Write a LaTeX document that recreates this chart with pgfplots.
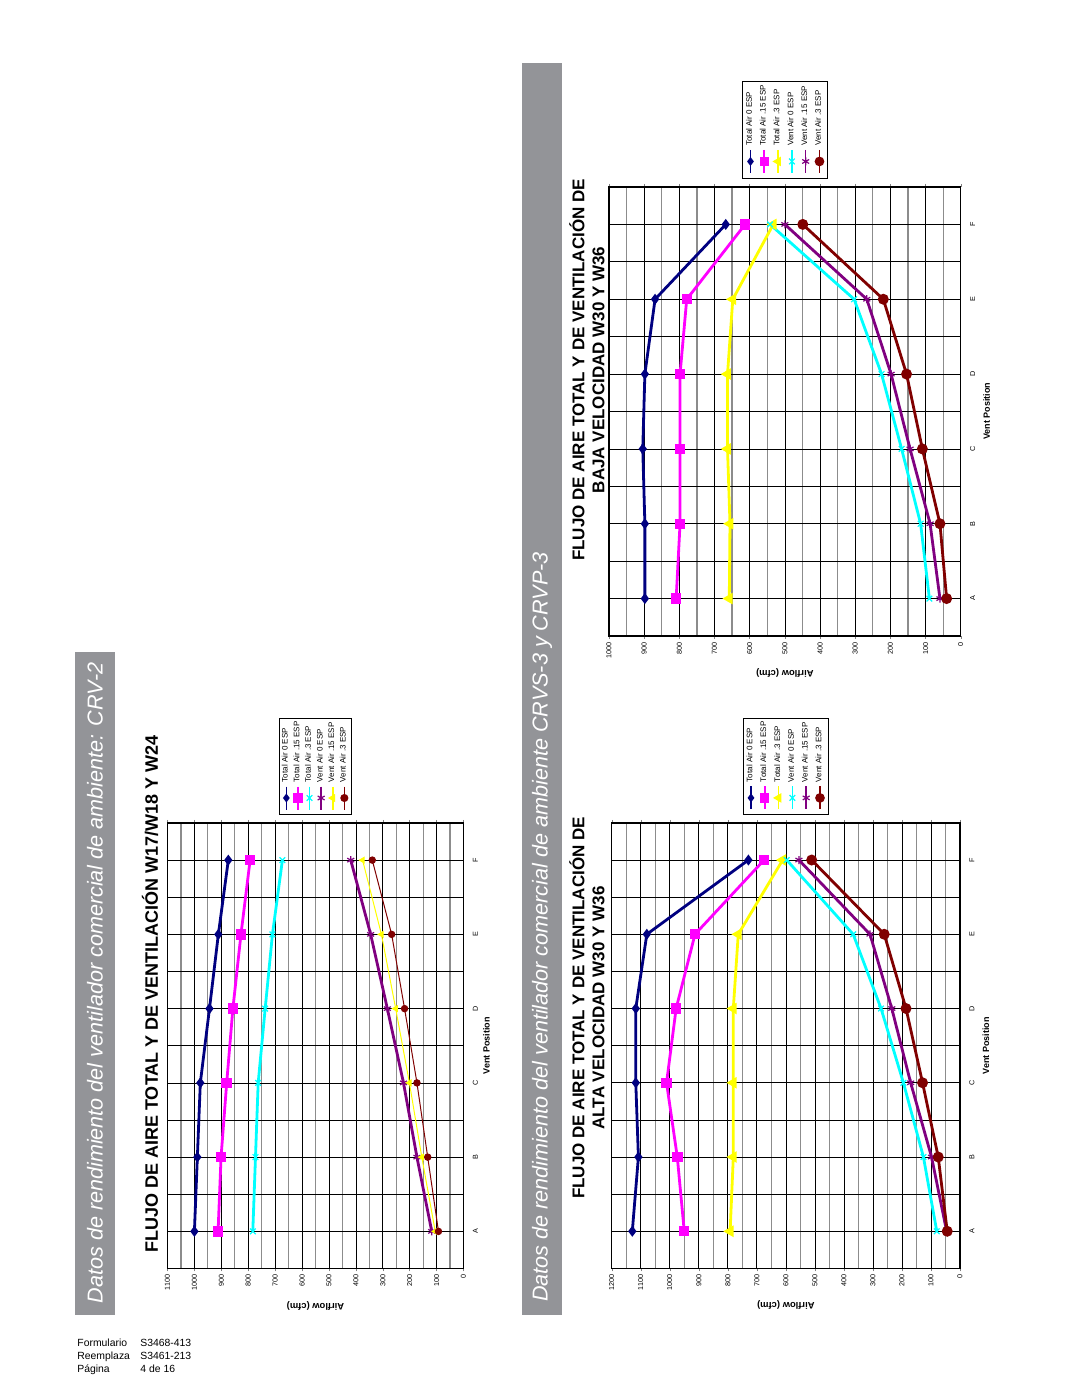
\documentclass[border=0pt]{standalone}
\usepackage{fontspec}
\setmainfont{Liberation Sans}
\usepackage{pgfplots}
\pgfplotsset{compat=1.18}
\definecolor{cnavy}{RGB}{0,0,128}
\definecolor{cmag}{RGB}{255,0,255}
\definecolor{ccyan}{RGB}{0,255,255}
\definecolor{cpurp}{RGB}{128,0,128}
\definecolor{cyell}{RGB}{255,255,0}
\definecolor{cdred}{RGB}{128,0,0}
\definecolor{banner}{RGB}{147,148,152}
\tikzset{vpos/.style={rotate=90, font=\bfseries\fontsize{4.5}{5}\selectfont}}
\def\lgw{2.9pt}
\pgfplotsset{
 crv/.style={
  scale only axis, anchor=south west, clip=false,
  x dir=reverse, xmin=0,
  ymin=-0.5, ymax=5.5,
  ytick={-0.5,0,0.5,1,1.5,2,2.5,3,3.5,4,4.5,5,5.5},
  yticklabels={,A,,B,,C,,D,,E,,F,},
  yticklabel pos=right,
  xmajorgrids, xminorgrids, ymajorgrids,
  major grid style={black, line width=0.35pt},
  minor grid style={black!45, line width=0.6pt},
  axis line style={black, line width=0.6pt},
  tick align=outside, major tick length=1.5pt,
  major y tick style={draw=none},
  minor x tick style={draw=none},
  /pgf/number format/1000 sep={},
  /pgf/number format/assume math mode=true,
  xticklabel style={rotate=90, anchor=east, inner sep=1.5pt, font=\fontsize{3.6}{4}\selectfont},
  yticklabel style={rotate=90, anchor=north, inner sep=3pt, font=\fontsize{3.6}{4}\selectfont},
  xlabel={Airflow (cfm)},
  xlabel style={at={(axis description cs:0.5,0)}, anchor=center, yshift=-18.5pt, rotate=180, font=\bfseries\fontsize{4.7}{5}\selectfont},
  legend columns=-1,
  legend style={anchor=center, draw=black, line width=0.4pt, fill=white,
    font=\fontsize{4}{4.8}\selectfont, inner sep=0.6pt, column sep=0pt,
    nodes={overlay, xshift=-\lgw, rotate=90, anchor=west, inner sep=0.5pt}},
  legend image code/.code={\path[draw=none, fill=none, use as bounding box] (-\lgw,32pt) rectangle (\lgw,-15pt);
    \draw[line width=0.8pt, mark repeat=2, mark phase=2] plot coordinates {(0pt,-1.5pt) (0pt,-7.25pt) (0pt,-13pt)};},
 },
 pnavy/.style={cnavy, line width=1.4pt, mark=diamond*, mark size=1.6pt, mark options={solid}},
 pmag/.style={cmag, line width=1.4pt, mark=square*, mark size=1.9pt, mark options={solid}},
 pcyan/.style={ccyan, line width=1.4pt, mark=x, mark size=2pt, mark options={solid, line width=0.6pt}},
 ppurp/.style={cpurp, line width=1.4pt, mark=asterisk, mark size=2pt, mark options={solid, line width=0.6pt}},
 pyell/.style={cyell, line width=1.4pt, mark=triangle*, mark size=2pt, mark options={solid, rotate=90}},
 pdred/.style={cdred, line width=1.4pt, mark=*, mark size=2pt, mark options={solid}},
}
\begin{document}
\begin{tikzpicture}
\useasboundingbox (0pt,0pt) rectangle (540pt,698.5pt);
\fill[white] (0pt,0pt) rectangle (540pt,698.5pt);
% banners
\fill[banner] (37.5pt,41pt) rectangle (57.5pt,372.5pt);
\node[rotate=90, text=white, font=\itshape\fontsize{10.8}{12}\selectfont] at (47.5pt,207pt)
  {Datos de rendimiento del ventilador comercial de ambiente: CRV-2};
\fill[banner] (261pt,41pt) rectangle (281pt,667pt);
\node[rotate=90, text=white, font=\itshape\fontsize{10.8}{12}\selectfont] at (271pt,235pt)
  {Datos de rendimiento del ventilador comercial de ambiente CRVS-3 y CRVP-3};
% titles
\node[rotate=90, font=\bfseries\fontsize{9}{10}\selectfont] at (75pt,201.5pt)
  {FLUJO DE AIRE TOTAL Y DE VENTILACIÓN W17/W18 Y W24};
\node[rotate=90, align=center, font=\bfseries\fontsize{8.5}{10}\selectfont] at (293.5pt,194.5pt)
  {FLUJO DE AIRE TOTAL Y DE VENTILACIÓN DE\\ALTA VELOCIDAD W30 Y W36};
\node[rotate=90, align=center, font=\bfseries\fontsize{8.5}{10}\selectfont] at (293.5pt,513.5pt)
  {FLUJO DE AIRE TOTAL Y DE VENTILACIÓN DE\\BAJA VELOCIDAD W30 Y W36};
% footer
\begin{scope}[every node/.style={anchor=base west, inner sep=0pt, font=\fontsize{5.2}{6}\selectfont}]
\node at (38.5pt,25pt) {Formulario};
\node at (70pt,25pt) {S3468-413};
\node at (38.5pt,18.75pt) {Reemplaza};
\node at (70pt,18.75pt) {S3461-213};
\node at (38.5pt,12.5pt) {Página};
\node at (70pt,12.5pt) {4 de 16};
\end{scope}

% Chart 1
\gdef\lgw{2.9pt}
\begin{axis}[crv, at={(83.75pt,64.25pt)}, width=148pt, height=222.75pt,
  xmax=1100, xtick={0,100,...,1100}, minor xtick={50,150,...,1050},
  legend style={at={(0.4995,1.1268)}}]
\addplot[pnavy] coordinates {(1000,0)(989,1)(978,2)(944,3)(911,4)(874,5)};
\addlegendentry{Total Air 0 ESP}
\addplot[pmag] coordinates {(912,0)(901,1)(880,2)(857,3)(827,4)(793,5)};
\addlegendentry{Total Air .15 ESP}
\addplot[pcyan] coordinates {(783,0)(773,1)(763,2)(737,3)(710,4)(673,5)};
\addlegendentry{Total Air .3 ESP}
\addplot[ppurp] coordinates {(118,0)(173,1)(223,2)(283,3)(345,4)(419,5)};
\addlegendentry{Vent Air 0 ESP}
\addplot[pyell, line width=0.5pt, mark size=1.6pt] coordinates {(105,0)(155,1)(201,2)(252,3)(305,4)(375,5)};
\addlegendentry{Vent Air .15 ESP}
\addplot[pdred, line width=0.5pt, mark size=1.6pt] coordinates {(93,0)(133,1)(173,2)(219,3)(267,4)(339,5)};
\addlegendentry{Vent Air .3 ESP}
\node[vpos] at ([xshift=11.5pt]axis description cs:1,0.5) {Vent Position};
\end{axis}

% Chart 2
\gdef\lgw{3.45pt}
\begin{axis}[crv, at={(305.85pt,64.3pt)}, width=174.15pt, height=222.75pt,
  xmax=1200, xtick={0,100,...,1200}, minor xtick={50,150,...,1150},
  legend style={at={(0.499,1.1268)}}]
\addplot[pnavy] coordinates {(1129,0)(1108,1)(1117,2)(1117,3)(1079,4)(729,5)};
\addlegendentry{Total Air 0 ESP}
\addplot[pmag] coordinates {(950,0)(974,1)(1011,2)(978,3)(913,4)(675,5)};
\addlegendentry{Total Air .15 ESP}
\addplot[pyell] coordinates {(792,0)(781,1)(781,2)(781,3)(764,4)(611,5)};
\addlegendentry{Total Air .3 ESP}
\addplot[pcyan] coordinates {(80,0)(126,1)(195,2)(272,3)(368,4)(597,5)};
\addlegendentry{Vent Air 0 ESP}
\addplot[ppurp] coordinates {(46,0)(98,1)(170,2)(235,3)(310,4)(555,5)};
\addlegendentry{Vent Air .15 ESP}
\addplot[pdred] coordinates {(44,0)(75,1)(129,2)(186,3)(261,4)(511,5)};
\addlegendentry{Vent Air .3 ESP}
\node[vpos] at ([xshift=13pt]axis description cs:1,0.5) {Vent Position};
\end{axis}

% Chart 3
\gdef\lgw{3.45pt}
\begin{axis}[crv, at={(304.5pt,380.5pt)}, width=175.85pt, height=224.5pt,
  xmax=1000, xtick={0,100,...,1000}, minor xtick={50,150,...,950},
  legend style={at={(0.5004,1.127)}}]
\addplot[pnavy] coordinates {(898,0)(898,1)(904,2)(898,3)(869,4)(668,5)};
\addlegendentry{Total Air 0 ESP}
\addplot[pmag] coordinates {(809,0)(798,1)(798,2)(798,3)(779,4)(613,5)};
\addlegendentry{Total Air .15 ESP}
\addplot[pyell] coordinates {(658,0)(656,1)(663,2)(663,3)(648,4)(533,5)};
\addlegendentry{Total Air .3 ESP}
\addplot[pcyan] coordinates {(89,0)(114,1)(168,2)(225,3)(303,4)(542,5)};
\addlegendentry{Vent Air 0 ESP}
\addplot[ppurp] coordinates {(59,0)(87,1)(144,2)(198,3)(267,4)(500,5)};
\addlegendentry{Vent Air .15 ESP}
\addplot[pdred] coordinates {(40,0)(59,1)(109,2)(154,3)(220,4)(449,5)};
\addlegendentry{Vent Air .3 ESP}
\node[vpos] at ([xshift=13pt]axis description cs:1,0.5) {Vent Position};
\end{axis}
\end{tikzpicture}
\end{document}
